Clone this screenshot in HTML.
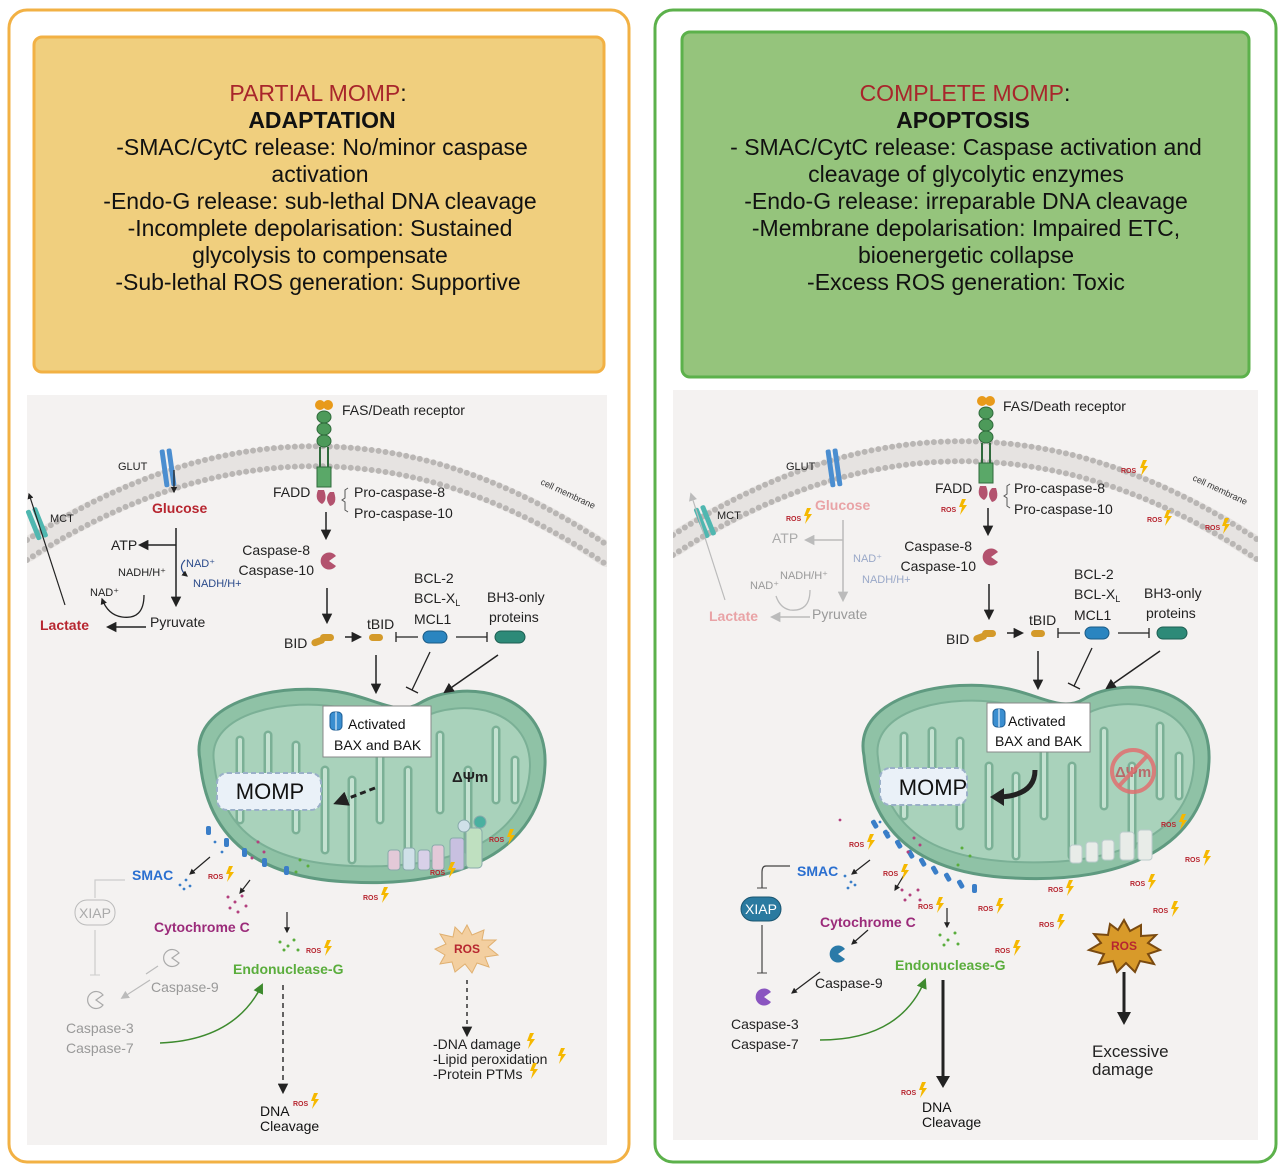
<!DOCTYPE html>
<html><head><meta charset="utf-8"><style>
html,body{margin:0;padding:0;background:#fff}
svg{display:block;font-family:"Liberation Sans",sans-serif}
</style></head><body>
<svg width="1286" height="1168" viewBox="0 0 1286 1168" xmlns="http://www.w3.org/2000/svg">
<defs>
<clipPath id="cl"><rect x="27" y="395" width="580" height="750"/></clipPath>
<clipPath id="cr"><rect x="673" y="390" width="585" height="750"/></clipPath>
<marker id="ar" viewBox="0 0 10 10" refX="8" refY="5" markerWidth="7" markerHeight="7" orient="auto"><path d="M0,0 L10,5 L0,10 Z" fill="#222"/></marker>
<marker id="arg" viewBox="0 0 10 10" refX="8" refY="5" markerWidth="7" markerHeight="7" orient="auto"><path d="M0,0 L10,5 L0,10 Z" fill="#bbb"/></marker>
<marker id="argr" viewBox="0 0 10 10" refX="8" refY="5" markerWidth="7" markerHeight="7" orient="auto"><path d="M0,0 L10,5 L0,10 Z" fill="#3d8a2e"/></marker>
<marker id="arb" viewBox="0 0 10 10" refX="8" refY="5" markerWidth="5" markerHeight="5" orient="auto"><path d="M0,0 L10,5 L0,10 Z" fill="#222"/></marker>
<g id="bolt"><path d="M3,0 L7,0 L4,6 L8,6 L1,16 L3,8 L0,8 Z" fill="#f5b800"/></g>
<g id="mito">
<path d="M200,760 C188,700 285,680 345,693 C378,700 398,716 420,703 C462,678 548,690 545,765 C542,850 460,888 350,882 C250,878 206,832 200,760 Z" fill="#8fc2a6" stroke="#5f9a80" stroke-width="3"/>
<path d="M214,762 C206,712 290,697 343,708 C378,716 398,730 422,718 C460,698 530,706 530,766 C528,838 455,870 352,866 C258,862 220,825 214,762 Z" fill="#a9d2bb" stroke="#7bb096" stroke-width="2"/>
<g fill="none" stroke="#7bb096" stroke-width="9" stroke-linecap="round">
<path d="M240,820 L240,740"/><path d="M268,735 L268,800"/><path d="M296,745 L296,830"/><path d="M325,770 L325,850"/><path d="M352,860 L352,780"/><path d="M380,730 L380,820"/><path d="M408,860 L408,770"/><path d="M440,735 L440,810"/><path d="M468,850 L468,770"/><path d="M496,730 L496,800"/><path d="M515,800 L515,760"/>
</g>
<g fill="none" stroke="#c4e2d1" stroke-width="4" stroke-linecap="round">
<path d="M240,820 L240,740"/><path d="M268,735 L268,800"/><path d="M296,745 L296,830"/><path d="M325,770 L325,850"/><path d="M352,860 L352,780"/><path d="M380,730 L380,820"/><path d="M408,860 L408,770"/><path d="M440,735 L440,810"/><path d="M468,850 L468,770"/><path d="M496,730 L496,800"/><path d="M515,800 L515,760"/>
</g>
</g>
<g id="pac"><path d="M0,0 L7,-5 A8.5,8.5 0 1,0 7,5 Z"/></g>
</defs>

<!-- LEFT PANEL -->
<rect x="9" y="10" width="620" height="1152" rx="18" fill="#fff" stroke="#f2b144" stroke-width="3"/>
<rect x="34" y="37" width="570" height="335" rx="8" fill="#f0cf7e" stroke="#f2b144" stroke-width="3"/>
<g font-size="23" text-anchor="middle" fill="#111">
<text x="318" y="101"><tspan fill="#a8262b">PARTIAL MOMP</tspan>:</text>
<text x="322" y="128" font-weight="bold">ADAPTATION</text>
<text x="322" y="155">-SMAC/CytC release: No/minor caspase</text>
<text x="320" y="182">activation</text>
<text x="320" y="209">-Endo-G release: sub-lethal DNA cleavage</text>
<text x="320" y="236">-Incomplete depolarisation: Sustained</text>
<text x="320" y="263">glycolysis to compensate</text>
<text x="318" y="290">-Sub-lethal ROS generation: Supportive</text>
</g>
<rect x="27" y="395" width="580" height="750" fill="#f4f2f1"/>

<!-- RIGHT PANEL -->
<rect x="655" y="10" width="621" height="1152" rx="18" fill="#fff" stroke="#5cb14b" stroke-width="3"/>
<rect x="682" y="32" width="567" height="345" rx="8" fill="#95c47c" stroke="#5cb14b" stroke-width="3"/>
<g font-size="23" text-anchor="middle" fill="#111">
<text x="965" y="101"><tspan fill="#a8262b">COMPLETE MOMP</tspan>:</text>
<text x="963" y="128" font-weight="bold">APOPTOSIS</text>
<text x="966" y="155">- SMAC/CytC release: Caspase activation and</text>
<text x="966" y="182">cleavage of glycolytic enzymes</text>
<text x="966" y="209">-Endo-G release: irreparable DNA cleavage</text>
<text x="966" y="236">-Membrane depolarisation: Impaired ETC,</text>
<text x="966" y="263">bioenergetic collapse</text>
<text x="966" y="290">-Excess ROS generation: Toxic</text>
</g>
<rect x="673" y="390" width="585" height="750" fill="#f4f2f1"/>

<!-- membranes -->
<g fill="none" stroke-linecap="round" clip-path="url(#cl)">
<path d="M27,540 Q320,350 607,545" stroke="#e6e3e1" stroke-width="24" transform="translate(0,10)"/>
<path d="M27,540 Q320,350 607,545" stroke="#b9b6b4" stroke-width="6" stroke-dasharray="0 7"/>
<path d="M27,560 Q320,370 607,565" stroke="#b9b6b4" stroke-width="6" stroke-dasharray="0 7"/>
</g>
<g fill="none" stroke-linecap="round" clip-path="url(#cr)">
<path d="M673,535 Q966,345 1258,540" stroke="#e6e3e1" stroke-width="24" transform="translate(0,10)"/>
<path d="M673,535 Q966,345 1258,540" stroke="#b9b6b4" stroke-width="6" stroke-dasharray="0 7"/>
<path d="M673,555 Q966,365 1258,560" stroke="#b9b6b4" stroke-width="6" stroke-dasharray="0 7"/>
</g>
<text x="540" y="484" font-size="9" fill="#333" transform="rotate(25 540 484)">cell membrane</text>
<text x="1192" y="480" font-size="9" fill="#333" transform="rotate(25 1192 480)">cell membrane</text>

<!-- LEFT content -->
<use href="#mito"/>
<g>
<circle cx="320" cy="405" r="5" fill="#e89a1a"/><circle cx="328" cy="405" r="5" fill="#e89a1a"/>
<ellipse cx="324" cy="417" rx="7" ry="6" fill="#4d9a5a" stroke="#2f6a3b"/>
<ellipse cx="324" cy="429" rx="7" ry="6" fill="#4d9a5a" stroke="#2f6a3b"/>
<ellipse cx="324" cy="441" rx="7" ry="6" fill="#4d9a5a" stroke="#2f6a3b"/>
<rect x="319" y="447" width="2" height="22" fill="#2f6a3b"/><rect x="327" y="447" width="2" height="22" fill="#2f6a3b"/>
<rect x="317" y="467" width="14" height="20" fill="#5aa868" stroke="#2f6a3b"/>
<path d="M318,490 q-4,10 4,14 q6,-4 2,-14z" fill="#b3526e"/><path d="M330,492 q-6,6 0,14 q8,-2 4,-14z" fill="#b3526e"/>
</g>
<text x="342" y="415" font-size="14" fill="#222">FAS/Death receptor</text>
<rect x="162" y="449" width="5" height="38" rx="2" fill="#4b8ed0" transform="rotate(-8 167 468)"/><rect x="169" y="449" width="5" height="38" rx="2" fill="#4b8ed0" transform="rotate(-8 167 468)"/>
<text x="118" y="470" font-size="11" fill="#222">GLUT</text>
<line x1="174" y1="470" x2="174" y2="492" stroke="#222" stroke-width="1.3" marker-end="url(#arb)"/>
<text x="152" y="513" font-size="14" font-weight="bold" fill="#b72630">Glucose</text>
<rect x="31" y="508" width="5" height="32" rx="2" fill="#4fb7b0" transform="rotate(-22 36 524)"/><rect x="38" y="508" width="5" height="32" rx="2" fill="#4fb7b0" transform="rotate(-22 36 524)"/>
<line x1="65" y1="605" x2="29" y2="494" stroke="#222" stroke-width="1.2" marker-end="url(#arb)"/>
<text x="50" y="522" font-size="11" fill="#222">MCT</text>
<text x="273" y="497" font-size="14" fill="#222">FADD</text>
<path d="M348,488 l-3,2 l0,8 l-3,2 l3,2 l0,8 l3,2" fill="none" stroke="#555"/>
<text x="354" y="497" font-size="14" fill="#222">Pro-caspase-8</text>
<text x="354" y="518" font-size="14" fill="#222">Pro-caspase-10</text>
<line x1="326" y1="512" x2="326" y2="538" stroke="#222" stroke-width="1.5" marker-end="url(#ar)"/>
<text x="310" y="555" font-size="14" fill="#222" text-anchor="end">Caspase-8</text>
<text x="314" y="575" font-size="14" fill="#222" text-anchor="end">Caspase-10</text>
<use href="#pac" x="329" y="561" fill="#b3526e"/>
<line x1="327" y1="588" x2="327" y2="622" stroke="#222" stroke-width="1.5" marker-end="url(#ar)"/>
<text x="284" y="648" font-size="14" fill="#222">BID</text>
<rect x="311" y="638" width="14" height="7" rx="3.5" fill="#d49a2a" transform="rotate(-20 318 641)"/><rect x="320" y="634" width="14" height="7" rx="3.5" fill="#d49a2a"/>
<line x1="345" y1="637" x2="360" y2="637" stroke="#222" stroke-width="1.5" marker-end="url(#ar)"/>
<text x="367" y="629" font-size="14" fill="#222">tBID</text>
<rect x="369" y="634" width="14" height="7" rx="3.5" fill="#d49a2a"/>
<line x1="396" y1="637" x2="418" y2="637" stroke="#222" stroke-width="1.3"/><line x1="396" y1="632" x2="396" y2="642" stroke="#222" stroke-width="1.3"/>
<text x="414" y="583" font-size="14" fill="#222">BCL-2</text>
<text x="414" y="603" font-size="14" fill="#222">BCL-X<tspan font-size="9" dy="3">L</tspan></text>
<text x="414" y="624" font-size="14" fill="#222">MCL1</text>
<rect x="423" y="631" width="24" height="12" rx="6" fill="#2a85c0" stroke="#1a5a85"/>
<line x1="456" y1="637" x2="487" y2="637" stroke="#222" stroke-width="1.3"/><line x1="487" y1="632" x2="487" y2="642" stroke="#222" stroke-width="1.3"/>
<text x="487" y="602" font-size="14" fill="#222">BH3-only</text>
<text x="489" y="622" font-size="14" fill="#222">proteins</text>
<rect x="495" y="631" width="30" height="12" rx="6" fill="#2d8a78" stroke="#1d5e52"/>
<line x1="376" y1="655" x2="376" y2="692" stroke="#222" stroke-width="1.5" marker-end="url(#ar)"/>
<line x1="430" y1="652" x2="412" y2="690" stroke="#222" stroke-width="1.3"/><line x1="406" y1="687" x2="418" y2="693" stroke="#222" stroke-width="1.3"/>
<line x1="498" y1="655" x2="445" y2="692" stroke="#222" stroke-width="1.5" marker-end="url(#ar)"/>
<!-- glycolysis left -->
<line x1="176" y1="528" x2="176" y2="605" stroke="#222" stroke-width="1.5" marker-end="url(#ar)"/>
<line x1="176" y1="545" x2="140" y2="545" stroke="#222" stroke-width="1.5" marker-end="url(#ar)"/>
<text x="111" y="550" font-size="14" fill="#222">ATP</text>
<path d="M185,560 q-8,8 2,16" fill="none" stroke="#2a4a8a" stroke-width="1.2" marker-end="url(#arb)"/>
<text x="186" y="567" font-size="11" fill="#2a4a8a">NAD⁺</text>
<text x="193" y="587" font-size="11" fill="#2a4a8a">NADH/H+</text>
<text x="118" y="576" font-size="11" fill="#222">NADH/H⁺</text>
<text x="90" y="596" font-size="11" fill="#222">NAD⁺</text>
<path d="M144,595 q0,25 -22,22 q-14,-2 -20,-18" fill="none" stroke="#222" stroke-width="1.3" marker-end="url(#arb)"/>
<text x="150" y="627" font-size="14" fill="#222">Pyruvate</text>
<line x1="146" y1="627" x2="108" y2="627" stroke="#222" stroke-width="1.5" marker-end="url(#ar)"/>
<text x="40" y="630" font-size="14" font-weight="bold" fill="#b72630">Lactate</text>
<!-- mito labels left -->
<rect x="323" y="706" width="108" height="51" fill="#fff" stroke="#888"/>
<rect x="330" y="712" width="12" height="18" rx="4" fill="#3a8ed0" stroke="#1d5e95"/><line x1="336" y1="712" x2="336" y2="730" stroke="#fff"/>
<text x="348" y="729" font-size="14" fill="#111">Activated</text>
<text x="334" y="750" font-size="14" fill="#111">BAX and BAK</text>
<rect x="217" y="773" width="104" height="37" rx="10" fill="#eaf1f8" stroke="#9ab0c8" stroke-dasharray="5 3" stroke-width="2"/>
<text x="270" y="799" font-size="22" fill="#111" text-anchor="middle">MOMP</text>
<line x1="375" y1="788" x2="336" y2="803" stroke="#222" stroke-width="3" stroke-dasharray="6 4" marker-end="url(#arb)"/>
<text x="452" y="782" font-size="15" font-weight="bold" fill="#222">ΔΨm</text>
<g stroke="#8aa" fill="#dde" stroke-width="1">
<rect x="388" y="850" width="12" height="20" rx="3" fill="#e3c9d8"/><rect x="403" y="848" width="12" height="22" rx="3" fill="#cfe0e8"/><rect x="418" y="850" width="12" height="20" rx="3" fill="#d8d0e8"/><rect x="432" y="845" width="12" height="25" rx="3" fill="#e3c9d8"/><rect x="450" y="838" width="14" height="32" rx="3" fill="#c8c0e0"/><rect x="466" y="828" width="16" height="40" rx="4" fill="#bfe0c0"/>
<circle cx="464" cy="826" r="6" fill="#cfe0e8"/><circle cx="480" cy="822" r="6" fill="#4ab0a0"/>
</g>
<g fill="#3a7ec8">
<rect x="206" y="826" width="5" height="9" rx="2"/><rect x="224" y="838" width="5" height="9" rx="2"/><rect x="242" y="848" width="5" height="9" rx="2"/><rect x="262" y="858" width="5" height="9" rx="2"/><rect x="284" y="866" width="5" height="9" rx="2"/>
</g>
<g fill="#3a7ec8"><circle cx="180" cy="885" r="1.4"/><circle cx="186" cy="880" r="1.4"/><circle cx="184" cy="889" r="1.4"/><circle cx="190" cy="886" r="1.4"/><circle cx="215" cy="842" r="1.4"/><circle cx="222" cy="852" r="1.4"/></g>
<g fill="#b3407e"><circle cx="228" cy="897" r="1.5"/><circle cx="235" cy="902" r="1.5"/><circle cx="242" cy="896" r="1.5"/><circle cx="230" cy="908" r="1.5"/><circle cx="246" cy="906" r="1.5"/><circle cx="238" cy="912" r="1.5"/><circle cx="258" cy="842" r="1.5"/><circle cx="264" cy="852" r="1.5"/><circle cx="252" cy="858" r="1.5"/></g>
<g fill="#5aad3c"><circle cx="280" cy="942" r="1.5"/><circle cx="288" cy="946" r="1.5"/><circle cx="294" cy="940" r="1.5"/><circle cx="284" cy="950" r="1.5"/><circle cx="298" cy="950" r="1.5"/><circle cx="300" cy="860" r="1.5"/><circle cx="308" cy="866" r="1.5"/><circle cx="296" cy="872" r="1.5"/></g>
<line x1="210" y1="857" x2="190" y2="874" stroke="#222" stroke-width="1.2" marker-end="url(#arb)"/>
<line x1="250" y1="880" x2="240" y2="893" stroke="#222" stroke-width="1.2" marker-end="url(#arb)"/>
<line x1="287" y1="912" x2="287" y2="932" stroke="#222" stroke-width="1.2" marker-end="url(#arb)"/>
<text x="132" y="880" font-size="14" font-weight="bold" fill="#2a6fd0">SMAC</text>
<text x="154" y="932" font-size="14" font-weight="bold" fill="#9b2b7a">Cytochrome C</text>
<text x="233" y="974" font-size="14" font-weight="bold" fill="#5aad3c">Endonuclease-G</text>
<path d="M125,880 l-30,0 l0,18" fill="none" stroke="#ccc" stroke-width="1.2"/>
<rect x="75" y="900" width="40" height="25" rx="12" fill="#f4f2f1" stroke="#bbb"/>
<text x="95" y="918" font-size="14" fill="#aaa" text-anchor="middle">XIAP</text>
<line x1="95" y1="930" x2="95" y2="975" stroke="#ccc" stroke-width="1.2"/><line x1="90" y1="975" x2="100" y2="975" stroke="#ccc"/>
<use href="#pac" x="172" y="958" fill="#f4f2f1" stroke="#aaa" stroke-width="1.2"/>
<use href="#pac" x="96" y="1000" fill="#f4f2f1" stroke="#aaa" stroke-width="1.2"/>
<line x1="158" y1="966" x2="146" y2="974" stroke="#bbb" stroke-width="1.2"/>
<line x1="150" y1="980" x2="122" y2="998" stroke="#bbb" stroke-width="1.2" marker-end="url(#arg)"/>
<text x="151" y="992" font-size="14" fill="#999">Caspase-9</text>
<text x="66" y="1033" font-size="14" fill="#999">Caspase-3</text>
<text x="66" y="1053" font-size="14" fill="#999">Caspase-7</text>
<path d="M160,1043 Q235,1040 262,985" fill="none" stroke="#3d8a2e" stroke-width="1.5" marker-end="url(#argr)"/>
<line x1="283" y1="985" x2="283" y2="1092" stroke="#333" stroke-width="1.5" stroke-dasharray="5 4" marker-end="url(#ar)"/>
<text x="260" y="1116" font-size="14" fill="#111">DNA</text>
<text x="260" y="1131" font-size="14" fill="#111">Cleavage</text>
<polygon points="467,925 472,935 484,930 482,940 496,940 488,947 498,955 485,957 489,967 477,963 472,973 465,964 455,972 452,962 440,964 445,955 435,949 446,944 440,934 453,937 455,927 462,934" fill="#f3cfa0" stroke="#e0b070"/>
<text x="467" y="953" font-size="12" font-weight="bold" fill="#b72630" text-anchor="middle">ROS</text>
<line x1="467" y1="980" x2="467" y2="1035" stroke="#333" stroke-width="1.5" stroke-dasharray="4 4" marker-end="url(#ar)"/>
<g font-size="14" fill="#222"><text x="433" y="1049">-DNA damage</text><text x="433" y="1064">-Lipid peroxidation</text><text x="433" y="1079">-Protein PTMs</text></g>
<use href="#bolt" x="527" y="1033"/><use href="#bolt" x="558" y="1048"/><use href="#bolt" x="530" y="1063"/>
<g font-size="7" font-weight="bold" fill="#b72630">
<text x="208" y="879">ROS</text><text x="306" y="953">ROS</text><text x="363" y="900">ROS</text><text x="430" y="875">ROS</text><text x="489" y="842">ROS</text><text x="293" y="1106">ROS</text>
</g>
<use href="#bolt" x="226" y="866"/><use href="#bolt" x="324" y="940"/><use href="#bolt" x="381" y="887"/><use href="#bolt" x="448" y="862"/><use href="#bolt" x="507" y="829"/><use href="#bolt" x="311" y="1093"/>

<!-- RIGHT content -->
<use href="#mito" transform="translate(664,-4)"/>
<g transform="translate(662,-4)">
<circle cx="320" cy="405" r="5" fill="#e89a1a"/><circle cx="328" cy="405" r="5" fill="#e89a1a"/>
<ellipse cx="324" cy="417" rx="7" ry="6" fill="#4d9a5a" stroke="#2f6a3b"/>
<ellipse cx="324" cy="429" rx="7" ry="6" fill="#4d9a5a" stroke="#2f6a3b"/>
<ellipse cx="324" cy="441" rx="7" ry="6" fill="#4d9a5a" stroke="#2f6a3b"/>
<rect x="319" y="447" width="2" height="22" fill="#2f6a3b"/><rect x="327" y="447" width="2" height="22" fill="#2f6a3b"/>
<rect x="317" y="467" width="14" height="20" fill="#5aa868" stroke="#2f6a3b"/>
<path d="M318,490 q-4,10 4,14 q6,-4 2,-14z" fill="#b3526e"/><path d="M330,492 q-6,6 0,14 q8,-2 4,-14z" fill="#b3526e"/>
<path d="M348,488 l-3,2 l0,8 l-3,2 l3,2 l0,8 l3,2" fill="none" stroke="#555"/>
<line x1="326" y1="512" x2="326" y2="538" stroke="#222" stroke-width="1.5" marker-end="url(#ar)"/>
<use href="#pac" x="329" y="561" fill="#b3526e"/>
<line x1="327" y1="588" x2="327" y2="622" stroke="#222" stroke-width="1.5" marker-end="url(#ar)"/>
<rect x="311" y="638" width="14" height="7" rx="3.5" fill="#d49a2a" transform="rotate(-20 318 641)"/><rect x="320" y="634" width="14" height="7" rx="3.5" fill="#d49a2a"/>
<line x1="345" y1="637" x2="360" y2="637" stroke="#222" stroke-width="1.5" marker-end="url(#ar)"/>
<rect x="369" y="634" width="14" height="7" rx="3.5" fill="#d49a2a"/>
<line x1="396" y1="637" x2="418" y2="637" stroke="#222" stroke-width="1.3"/><line x1="396" y1="632" x2="396" y2="642" stroke="#222" stroke-width="1.3"/>
<rect x="423" y="631" width="24" height="12" rx="6" fill="#2a85c0" stroke="#1a5a85"/>
<line x1="456" y1="637" x2="487" y2="637" stroke="#222" stroke-width="1.3"/><line x1="487" y1="632" x2="487" y2="642" stroke="#222" stroke-width="1.3"/>
<rect x="495" y="631" width="30" height="12" rx="6" fill="#2d8a78" stroke="#1d5e52"/>
<line x1="376" y1="655" x2="376" y2="692" stroke="#222" stroke-width="1.5" marker-end="url(#ar)"/>
<line x1="430" y1="652" x2="412" y2="690" stroke="#222" stroke-width="1.3"/><line x1="406" y1="687" x2="418" y2="693" stroke="#222" stroke-width="1.3"/>
<line x1="498" y1="655" x2="445" y2="692" stroke="#222" stroke-width="1.5" marker-end="url(#ar)"/>
</g>
<text x="1003" y="411" font-size="14" fill="#222">FAS/Death receptor</text>
<text x="935" y="493" font-size="14" fill="#222">FADD</text>
<text x="1014" y="493" font-size="14" fill="#222">Pro-caspase-8</text>
<text x="1014" y="514" font-size="14" fill="#222">Pro-caspase-10</text>
<text x="972" y="551" font-size="14" fill="#222" text-anchor="end">Caspase-8</text>
<text x="976" y="571" font-size="14" fill="#222" text-anchor="end">Caspase-10</text>
<text x="946" y="644" font-size="14" fill="#222">BID</text>
<text x="1029" y="625" font-size="14" fill="#222">tBID</text>
<text x="1074" y="579" font-size="14" fill="#222">BCL-2</text>
<text x="1074" y="599" font-size="14" fill="#222">BCL-X<tspan font-size="9" dy="3">L</tspan></text>
<text x="1074" y="620" font-size="14" fill="#222">MCL1</text>
<text x="1144" y="598" font-size="14" fill="#222">BH3-only</text>
<text x="1146" y="618" font-size="14" fill="#222">proteins</text>
<rect x="828" y="449" width="5" height="38" rx="2" fill="#4b8ed0" transform="rotate(-8 833 468)"/><rect x="835" y="449" width="5" height="38" rx="2" fill="#4b8ed0" transform="rotate(-8 833 468)"/>
<text x="786" y="470" font-size="11" fill="#222">GLUT</text>
<text x="815" y="510" font-size="14" font-weight="bold" fill="#e9a3a6">Glucose</text>
<rect x="699" y="506" width="5" height="32" rx="2" fill="#4fb7b0" transform="rotate(-22 704 522)"/><rect x="706" y="506" width="5" height="32" rx="2" fill="#4fb7b0" transform="rotate(-22 704 522)"/>
<line x1="725" y1="600" x2="691" y2="494" stroke="#bbb" stroke-width="1.2" marker-end="url(#arg)"/>
<text x="717" y="519" font-size="11" fill="#222">MCT</text>
<line x1="843" y1="520" x2="843" y2="600" stroke="#bbb" stroke-width="1.5" marker-end="url(#arg)"/>
<line x1="843" y1="540" x2="806" y2="540" stroke="#bbb" stroke-width="1.5" marker-end="url(#arg)"/>
<text x="772" y="543" font-size="14" fill="#aaa">ATP</text>
<text x="853" y="562" font-size="11" fill="#99a8c8">NAD⁺</text>
<text x="862" y="583" font-size="11" fill="#99a8c8">NADH/H+</text>
<text x="780" y="579" font-size="11" fill="#999">NADH/H⁺</text>
<text x="750" y="589" font-size="11" fill="#999">NAD⁺</text>
<path d="M810,590 q0,22 -20,20 q-10,-2 -14,-14" fill="none" stroke="#bbb" stroke-width="1.3"/>
<text x="812" y="619" font-size="14" fill="#999">Pyruvate</text>
<line x1="810" y1="617" x2="772" y2="617" stroke="#bbb" stroke-width="1.5" marker-end="url(#arg)"/>
<text x="709" y="621" font-size="14" font-weight="bold" fill="#e9a3a6">Lactate</text>
<rect x="987" y="703" width="103" height="49" fill="#fff" stroke="#888"/>
<rect x="993" y="709" width="12" height="18" rx="4" fill="#3a8ed0" stroke="#1d5e95"/><line x1="999" y1="709" x2="999" y2="727" stroke="#fff"/>
<text x="1008" y="726" font-size="14" fill="#111">Activated</text>
<text x="995" y="746" font-size="14" fill="#111">BAX and BAK</text>
<rect x="880" y="768" width="87" height="37" rx="10" fill="#eaf1f8" stroke="#9ab0c8" stroke-dasharray="5 3" stroke-width="2"/>
<text x="933" y="795" font-size="22" fill="#111" text-anchor="middle">MOMP</text>
<path d="M1035,770 Q1035,795 1000,797" fill="none" stroke="#222" stroke-width="5"/>
<polygon points="990,797 1004,788 1004,806" fill="#222"/>
<text x="1115" y="777" font-size="15" font-weight="bold" fill="#b86a6a">ΔΨm</text>
<circle cx="1133" cy="771" r="21" fill="none" stroke="#e07070" stroke-width="4" opacity="0.85"/>
<line x1="1119" y1="786" x2="1147" y2="756" stroke="#e07070" stroke-width="4" opacity="0.85"/>
<g fill="#e8ece8" stroke="#bcc" stroke-width="1"><rect x="1070" y="845" width="12" height="18" rx="3"/><rect x="1086" y="842" width="12" height="20" rx="3"/><rect x="1102" y="840" width="12" height="20" rx="3"/><rect x="1120" y="832" width="14" height="28" rx="3"/><rect x="1138" y="830" width="14" height="30" rx="3"/></g>
<g fill="#3a7ec8">
<rect x="872" y="820" width="5" height="9" rx="2" transform="rotate(-30 874 824)"/><rect x="884" y="830" width="5" height="9" rx="2" transform="rotate(-30 886 834)"/><rect x="896" y="840" width="5" height="9" rx="2" transform="rotate(-30 898 844)"/><rect x="908" y="850" width="5" height="9" rx="2" transform="rotate(-30 910 854)"/><rect x="920" y="858" width="5" height="9" rx="2" transform="rotate(-30 922 862)"/><rect x="932" y="866" width="5" height="9" rx="2" transform="rotate(-30 934 870)"/><rect x="945" y="873" width="5" height="9" rx="2" transform="rotate(-30 947 877)"/><rect x="958" y="880" width="5" height="9" rx="2" transform="rotate(-30 960 884)"/><rect x="972" y="884" width="5" height="9" rx="2"/>
</g>
<g fill="#3a7ec8"><circle cx="845" cy="876" r="1.4"/><circle cx="851" cy="882" r="1.4"/><circle cx="848" cy="888" r="1.4"/><circle cx="855" cy="885" r="1.4"/><circle cx="880" cy="822" r="1.4"/><circle cx="888" cy="833" r="1.4"/></g>
<g fill="#b3407e"><circle cx="840" cy="820" r="1.4"/><circle cx="902" cy="890" r="1.5"/><circle cx="910" cy="895" r="1.5"/><circle cx="918" cy="890" r="1.5"/><circle cx="905" cy="900" r="1.5"/><circle cx="920" cy="900" r="1.5"/><circle cx="914" cy="838" r="1.5"/><circle cx="920" cy="845" r="1.5"/><circle cx="908" cy="852" r="1.5"/></g>
<g fill="#5aad3c"><circle cx="940" cy="935" r="1.5"/><circle cx="948" cy="940" r="1.5"/><circle cx="955" cy="933" r="1.5"/><circle cx="944" cy="945" r="1.5"/><circle cx="958" cy="944" r="1.5"/><circle cx="962" cy="848" r="1.5"/><circle cx="970" cy="856" r="1.5"/><circle cx="958" cy="865" r="1.5"/></g>
<line x1="870" y1="860" x2="852" y2="874" stroke="#222" stroke-width="1.2" marker-end="url(#arb)"/>
<line x1="907" y1="870" x2="895" y2="890" stroke="#222" stroke-width="1.2" marker-end="url(#arb)"/>
<line x1="947" y1="908" x2="947" y2="927" stroke="#222" stroke-width="1.2" marker-end="url(#arb)"/>
<text x="797" y="876" font-size="14" font-weight="bold" fill="#2a6fd0">SMAC</text>
<text x="820" y="927" font-size="14" font-weight="bold" fill="#9b2b7a">Cytochrome C</text>
<text x="895" y="970" font-size="14" font-weight="bold" fill="#5aad3c">Endonuclease-G</text>
<path d="M790,866 l-24,0 q-4,0 -4,6 l0,16" fill="none" stroke="#444" stroke-width="1.2"/><line x1="757" y1="888" x2="767" y2="888" stroke="#444"/>
<rect x="741" y="897" width="40" height="24" rx="12" fill="#2a7aa0" stroke="#1a5570"/>
<text x="761" y="914" font-size="14" fill="#fff" text-anchor="middle">XIAP</text>
<line x1="762" y1="925" x2="762" y2="973" stroke="#444" stroke-width="1.2"/><line x1="757" y1="973" x2="767" y2="973" stroke="#444"/>
<use href="#pac" x="838" y="954" fill="#2a7aa8"/>
<use href="#pac" x="764" y="997" fill="#8a55c0"/>
<line x1="868" y1="930" x2="852" y2="944" stroke="#222" stroke-width="1.2" marker-end="url(#arb)"/>
<line x1="820" y1="972" x2="792" y2="993" stroke="#222" stroke-width="1.2" marker-end="url(#arb)"/>
<text x="815" y="988" font-size="14" fill="#222">Caspase-9</text>
<text x="731" y="1029" font-size="14" fill="#222">Caspase-3</text>
<text x="731" y="1049" font-size="14" fill="#222">Caspase-7</text>
<path d="M820,1040 Q900,1040 925,980" fill="none" stroke="#3d8a2e" stroke-width="1.5" marker-end="url(#argr)"/>
<line x1="943" y1="980" x2="943" y2="1080" stroke="#222" stroke-width="3"/>
<polygon points="936,1076 950,1076 943,1088" fill="#222"/>
<text x="922" y="1112" font-size="14" fill="#111">DNA</text>
<text x="922" y="1127" font-size="14" fill="#111">Cleavage</text>
<polygon points="1124,920 1130,931 1141,925 1141,936 1156,935 1148,943 1160,950 1148,954 1154,964 1140,961 1135,972 1126,963 1117,972 1113,961 1099,964 1104,954 1089,950 1101,943 1094,934 1108,935 1110,924 1118,930" fill="#d89a2a" stroke="#7a4a10" stroke-width="2"/>
<text x="1124" y="950" font-size="12" font-weight="bold" fill="#b72630" text-anchor="middle">ROS</text>
<line x1="1124" y1="972" x2="1124" y2="1015" stroke="#222" stroke-width="3"/>
<polygon points="1117,1012 1131,1012 1124,1025" fill="#222"/>
<text x="1092" y="1057" font-size="17" fill="#222">Excessive</text>
<text x="1092" y="1075" font-size="17" fill="#222">damage</text>
<g font-size="7" font-weight="bold" fill="#b72630">
<text x="1121" y="473">ROS</text><text x="941" y="512">ROS</text><text x="786" y="521">ROS</text><text x="1147" y="522">ROS</text><text x="1205" y="530">ROS</text>
<text x="849" y="847">ROS</text><text x="883" y="876">ROS</text><text x="918" y="909">ROS</text><text x="978" y="911">ROS</text><text x="1039" y="927">ROS</text><text x="1048" y="892">ROS</text><text x="995" y="953">ROS</text><text x="1161" y="827">ROS</text><text x="1185" y="862">ROS</text><text x="1130" y="886">ROS</text><text x="1153" y="913">ROS</text><text x="901" y="1095">ROS</text>
</g>
<use href="#bolt" x="1140" y="460"/><use href="#bolt" x="959" y="499"/><use href="#bolt" x="804" y="508"/><use href="#bolt" x="1164" y="510"/><use href="#bolt" x="1222" y="518"/>
<use href="#bolt" x="867" y="834"/><use href="#bolt" x="901" y="864"/><use href="#bolt" x="936" y="897"/><use href="#bolt" x="996" y="898"/><use href="#bolt" x="1057" y="914"/><use href="#bolt" x="1066" y="880"/><use href="#bolt" x="1013" y="940"/><use href="#bolt" x="1179" y="814"/><use href="#bolt" x="1203" y="850"/><use href="#bolt" x="1148" y="874"/><use href="#bolt" x="1171" y="901"/><use href="#bolt" x="919" y="1082"/>
</svg>
</body></html>
